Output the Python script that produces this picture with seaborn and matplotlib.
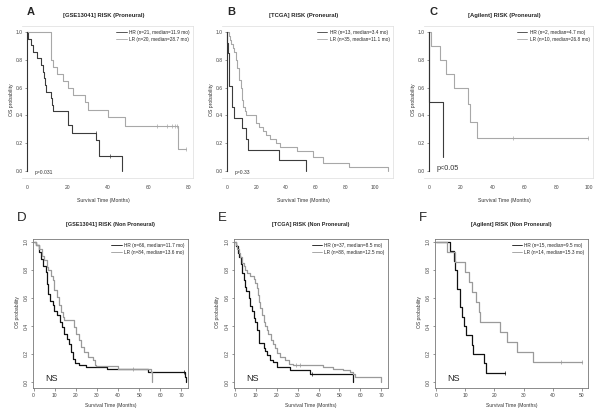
import matplotlib
matplotlib.use("Agg")
import matplotlib.pyplot as plt
import seaborn as sns
import pandas as pd

W, H = 600, 415

# ---- panel A: GSE13041 proneural
a_hr_t = [0, 0.7, 1.8, 3.1, 4.8, 6.8, 7.7, 8.5, 9.0, 9.5, 11.9, 12.3, 12.7, 20.4, 22.4, 34.2, 35.7, 47.0]
a_hr_s = [1.0, 0.952, 0.905, 0.857, 0.810, 0.762, 0.714, 0.667, 0.619, 0.571, 0.524, 0.476, 0.429, 0.333, 0.276, 0.223, 0.110, 0.0]
a_lr_t = [0, 11.9, 13.0, 14.7, 18.0, 20.4, 22.9, 28.7, 30.0, 40.0, 48.4, 74.4, 78.5]
a_lr_s = [1.0, 0.80, 0.75, 0.70, 0.65, 0.60, 0.55, 0.50, 0.44, 0.39, 0.326, 0.158, 0.158]
a_hr_ct, a_hr_cs = [34.0, 41.0], [0.276, 0.110]
a_lr_ct, a_lr_cs = [64, 69, 71.5, 73, 74, 78.5], [0.326, 0.326, 0.326, 0.326, 0.326, 0.158]

# ---- panel B: TCGA proneural
b_hr_t = [0, 0.3, 0.6, 1.0, 1.4, 3.4, 4.5, 10.4, 12.5, 14.2, 35.0, 53.7]
b_hr_s = [1.0, 0.923, 0.846, 0.769, 0.615, 0.462, 0.385, 0.308, 0.231, 0.154, 0.077, 0.0]
b_lr_t = [0, 1.4, 2.3, 3.0, 4.0, 4.7, 5.9, 6.8, 8.1, 9.5, 10.4, 11.1, 12.0, 13.0, 19.9, 21.7,
          24.0, 26.6, 29.3, 33.0, 35.7, 47.0, 57.8, 65.0, 82.4, 109.0]
b_lr_s = [1.0, 0.971, 0.943, 0.914, 0.886, 0.857, 0.80, 0.743, 0.657, 0.60, 0.514, 0.457, 0.429, 0.40, 0.343, 0.314,
          0.286, 0.257, 0.229, 0.20, 0.171, 0.143, 0.10, 0.06, 0.029, 0.0]

# ---- panel C: Agilent proneural
c_hr_t = [0, 0, 8.75]
c_hr_s = [1.0, 0.5, 0.1]
c_lr_t = [0, 1.0, 6.7, 10.4, 15.4, 24.4, 25.8, 30.2, 99.4]
c_lr_s = [1.0, 0.90, 0.80, 0.70, 0.60, 0.48, 0.35, 0.237, 0.237]
c_lr_ct, c_lr_cs = [52.5, 99.4], [0.237, 0.237]

# ---- panel D: GSE13041 non proneural
d_hr_t = [0, 1.3, 2.8, 3.6, 4.4, 5.7, 6.4, 7.0, 7.9, 9.1, 9.9, 11.0, 12.3, 13.4, 14.3, 15.9, 17.0, 17.8,
          18.6, 19.8, 21.7, 24.8, 35.0, 54.0, 71.5, 72.0]
d_hr_s = [1.0, 0.98, 0.93, 0.88, 0.83, 0.786, 0.70, 0.63, 0.58, 0.55, 0.51, 0.476, 0.43, 0.39, 0.345, 0.31, 0.274, 0.214,
          0.167, 0.136, 0.12, 0.107, 0.09, 0.071, 0.035, 0.0]
d_lr_t = [0, 1.3, 2.8, 4.0, 5.2, 6.3, 7.0, 8.3, 9.1, 9.9, 11.0, 12.0, 13.0, 13.8, 14.6, 19.3, 20.1, 21.4,
          22.5, 24.0, 25.6, 28.0, 28.9, 29.7, 40.0, 55.5, 56.3]
d_lr_s = [1.0, 0.98, 0.95, 0.90, 0.87, 0.82, 0.80, 0.76, 0.726, 0.655, 0.607, 0.55, 0.50, 0.464, 0.445, 0.393, 0.345, 0.298,
          0.25, 0.214, 0.179, 0.155, 0.12, 0.114, 0.095, 0.07, 0.0]
d_hr_ct, d_hr_cs = [71.0], [0.071]
d_lr_ct, d_lr_cs = [46.9], [0.095]

# ---- panel E: TCGA non proneural
e_hr_t = [0, 0.3, 1.3, 2.0, 2.9, 3.5, 4.1, 4.9, 5.4, 6.5, 7.3, 8.1, 8.9, 9.7, 10.5, 11.3, 11.7, 13.7,
          14.4, 15.2, 16.8, 18.1, 20.0, 26.3, 35.9, 56.5]
e_hr_s = [1.0, 0.97, 0.92, 0.89, 0.84, 0.78, 0.73, 0.68, 0.65, 0.60, 0.54, 0.51, 0.46, 0.43, 0.37, 0.32, 0.275, 0.24,
          0.22, 0.19, 0.16, 0.14, 0.11, 0.083, 0.055, 0.0]
e_lr_t = [0, 0.3, 1.0, 1.7, 2.5, 3.3, 4.1, 4.9, 5.7, 7.3, 8.9, 9.7, 10.5, 10.8, 11.6, 12.1, 12.9, 13.7,
          14.4, 15.2, 16.0, 17.1, 18.1, 19.2, 20.3, 21.6, 24.0, 26.0, 27.9, 42.2, 47.0, 51.7, 54.9, 56.5, 57.3, 70.0]
e_lr_s = [1.0, 0.98, 0.95, 0.92, 0.89, 0.85, 0.83, 0.80, 0.78, 0.76, 0.735, 0.71, 0.67, 0.62, 0.57, 0.53, 0.48, 0.43,
          0.40, 0.37, 0.34, 0.30, 0.27, 0.24, 0.21, 0.18, 0.155, 0.13, 0.12, 0.11, 0.095, 0.083, 0.07, 0.06, 0.035, 0.0]
e_hr_ct, e_hr_cs = [36.7], [0.055]
e_lr_ct, e_lr_cs = [29.0, 31.0], [0.12, 0.12]

# ---- panel F: Agilent non proneural
f_hr_t = [0, 4.9, 6.1, 6.4, 7.2, 8.3, 8.9, 9.5, 10.4, 12.3, 12.7, 16.3, 17.2, 23.7]
f_hr_s = [1.0, 0.933, 0.867, 0.80, 0.667, 0.533, 0.467, 0.40, 0.333, 0.267, 0.20, 0.133, 0.067, 0.067]
f_lr_t = [0, 3.8, 6.6, 10.0, 11.2, 12.3, 13.8, 14.6, 15.2, 22.0, 24.3, 27.7, 33.4, 50.0]
f_lr_s = [1.0, 0.929, 0.857, 0.786, 0.714, 0.643, 0.571, 0.5, 0.429, 0.357, 0.286, 0.214, 0.143, 0.143]
f_hr_ct, f_hr_cs = [23.7], [0.067]
f_lr_ct, f_lr_cs = [43.0, 50.0], [0.143, 0.143]

sns.set_theme(style="white")
plt.rcParams['font.family'] = ['Liberation Sans', 'DejaVu Sans']

fig = plt.figure(figsize=(W / 100, H / 100), dpi=100)


def px_axes(left, top, right, bottom):
    return fig.add_axes([left / W, 1 - bottom / H, (right - left) / W, (bottom - top) / H])


def curve(ax, t, s, color, label, lw):
    df = pd.DataFrame({'t': t, 's': s})
    sns.lineplot(data=df, x='t', y='s', ax=ax, color=color, lw=lw, label=label,
                 drawstyle='steps-post', estimator=None, sort=False)


def censor(ax, t, s, color):
    ax.plot(t, s, '|', color=color, ms=2.5, mew=0.5)


panels = [
    dict(letter='A', title='[GSE13041] RISK (Proneural)', box=(22, 26, 193, 178), xlim=(-2.47, 82.0),
         xticks=[0, 20, 40, 60, 80], hr=(a_hr_t, a_hr_s, a_hr_ct, a_hr_cs), lr=(a_lr_t, a_lr_s, a_lr_ct, a_lr_cs),
         labels=('HR (n=21, median=11.9 mo)', 'LR (n=20, median=28.7 mo)'), p='p=0.031', top=True),
    dict(letter='B', title='[TCGA] RISK (Proneural)', box=(222, 26, 393, 178), xlim=(-3.4, 112.2),
         xticks=[0, 20, 40, 60, 80, 100], hr=(b_hr_t, b_hr_s, [], []), lr=(b_lr_t, b_lr_s, [], []),
         labels=('HR (n=13, median=3.4 mo)', 'LR (n=35, median=11.1 mo)'), p='p=0.33', top=True),
    dict(letter='C', title='[Agilent] RISK (Proneural)', box=(424, 26, 593, 178), xlim=(-3.1, 102.5),
         xticks=[0, 20, 40, 60, 80, 100], hr=(c_hr_t, c_hr_s, [], []), lr=(c_lr_t, c_lr_s, c_lr_ct, c_lr_cs),
         labels=('HR (n=2, median=4.7 mo)', 'LR (n=10, median=26.8 mo)'), p='p<0.05', top=True),
    dict(letter='D', title='[GSE13041] RISK (Non Proneural)', box=(33, 239, 188, 388), xlim=(-0.24, 73.1),
         xticks=[0, 10, 20, 30, 40, 50, 60, 70], hr=(d_hr_t, d_hr_s, d_hr_ct, d_hr_cs), lr=(d_lr_t, d_lr_s, d_lr_ct, d_lr_cs),
         labels=('HR (n=66, median=11.7 mo)', 'LR (n=84, median=13.6 mo)'), p='NS', top=False),
    dict(letter='E', title='[TCGA] RISK (Non Proneural)', box=(234, 239, 388, 388), xlim=(-0.5, 73.3),
         xticks=[0, 10, 20, 30, 40, 50, 60, 70], hr=(e_hr_t, e_hr_s, e_hr_ct, e_hr_cs), lr=(e_lr_t, e_lr_s, e_lr_ct, e_lr_cs),
         labels=('HR (n=37, median=8.5 mo)', 'LR (n=88, median=12.5 mo)'), p='NS', top=False),
    dict(letter='F', title='[Agilent] RISK (Non Proneural)', box=(435, 239, 588, 388), xlim=(-0.34, 52.1),
         xticks=[0, 10, 20, 30, 40, 50], hr=(f_hr_t, f_hr_s, f_hr_ct, f_hr_cs), lr=(f_lr_t, f_lr_s, f_lr_ct, f_lr_cs),
         labels=('HR (n=15, median=9.5 mo)', 'LR (n=14, median=15.3 mo)'), p='NS', top=False),
]

yticks = [0.0, 0.2, 0.4, 0.6, 0.8, 1.0]

for p in panels:
    l, t, r, b = p['box']
    ax = px_axes(l, t, r, b)
    if p['top']:
        hr_col, lr_col, lw = '#3c3c3c', '#a8a8a8', 0.8
        ax.set_ylim(-0.05, 1.043)
    else:
        hr_col, lr_col, lw = '#111111', '#9a9a9a', 0.9
        ax.set_ylim(-0.043, 1.021)
    ax.set_xlim(*p['xlim'])

    ht, hs, hct, hcs = p['hr']
    lt, ls, lct, lcs = p['lr']
    curve(ax, ht, hs, hr_col, p['labels'][0], lw)
    curve(ax, lt, ls, lr_col, p['labels'][1], lw)
    if hct:
        censor(ax, hct, hcs, hr_col)
    if lct:
        censor(ax, lct, lcs, lr_col)

    ax.set_xticks(p['xticks'])
    ax.set_xticklabels([str(v) for v in p['xticks']])
    ax.set_yticks(yticks)
    ax.set_yticklabels(['%.1f' % v for v in yticks], rotation=90, va='center')
    ax.tick_params(axis='both', labelsize=3.6, length=1.8, width=0.4, pad=1.5, colors='#444444',
                   bottom=True, left=True, direction='out')
    ax.set_xlabel('')
    ax.set_ylabel('')

    if p['top']:
        for sp in ['top', 'right', 'bottom']:
            ax.spines[sp].set_color('#dddddd')
            ax.spines[sp].set_linewidth(0.5)
        ax.spines['left'].set_position(('data', 0))
        ax.spines['left'].set_bounds(0, 1)
        ax.spines['left'].set_color('#333333')
        ax.spines['left'].set_linewidth(0.8)
        ax.tick_params(axis='x', length=0, pad=5)
    else:
        for sp in ax.spines.values():
            sp.set_color('#777777')
            sp.set_linewidth(0.6)

    leg = ax.legend(loc='upper right', bbox_to_anchor=(1.0, 0.995), frameon=False, fontsize=3.4,
                    handlelength=2.2, handletextpad=0.5, labelspacing=0.35, borderaxespad=0.3)
    for line in leg.get_lines():
        line.set_linewidth(0.6)

    cx = (l + r) / 2
    if p['top']:
        fig.text((cx - 4) / W, 1 - 15 / H, p['title'], ha='center', va='center', fontsize=4.2, fontweight='bold')
        fig.text((l + 5) / W, 1 - 12 / H, p['letter'], ha='left', va='center', fontsize=8, fontweight='bold')
        fig.text((cx - 4) / W, 1 - 200 / H, 'Survival Time (Months)', ha='center', va='center', fontsize=3.7,
                 color='#333333')
        fig.text((l - 10) / W, 1 - 100 / H, 'OS probability', ha='center', va='center', rotation=90,
                 fontsize=3.7, color='#333333')
        if p['p'] == 'p<0.05':
            fig.text((l + 13) / W, 1 - 168 / H, p['p'], ha='left', va='center', fontsize=5.2, color='#333333')
        else:
            fig.text((l + 13) / W, 1 - 172 / H, p['p'], ha='left', va='center', fontsize=3.6, color='#333333')
    else:
        fig.text(cx / W, 1 - 224 / H, p['title'], ha='center', va='center', fontsize=4.0, fontweight='bold')
        fig.text((l - 16) / W, 1 - 218 / H, p['letter'], ha='left', va='center', fontsize=9.5)
        fig.text(cx / W, 1 - 405 / H, 'Survival Time (Months)', ha='center', va='center', fontsize=3.6,
                 color='#333333')
        fig.text((l - 16) / W, 1 - 312 / H, 'OS probability', ha='center', va='center', rotation=90,
                 fontsize=3.6, color='#333333')
        fig.text((l + 12) / W, 1 - 378 / H, p['p'], ha='left', va='center', fontsize=6.5, color='#222222')

fig.savefig('out.png', dpi=100)
